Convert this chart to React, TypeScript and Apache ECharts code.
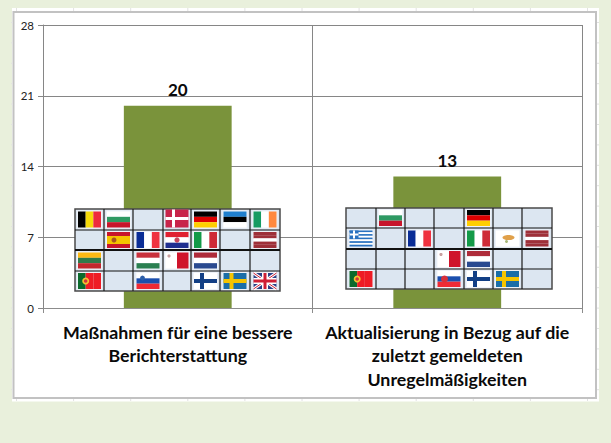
import React, { useEffect, useRef } from "react";
import * as echarts from "echarts";

const categories = [
  "Maßnahmen für eine bessere\nBerichterstattung",
  "Aktualisierung in Bezug auf die\nzuletzt gemeldeten\nUnregelmäßigkeiten",
];
const values = [20, 13];
const yTicks = { min: 0, max: 28, interval: 7 };
const leftFlags = [
  ["BE", "BG", "", "DK", "DE", "EE", "IE"],
  ["", "ES", "FR", "HR", "IT", "", "LV"],
  ["LT", "", "HU", "MT", "NL", "", ""],
  ["PT", "", "SI", "", "FI", "SE", "UK"],
];
const rightFlags = [
  ["", "BG", "", "", "DE", "", ""],
  ["EL", "", "FR", "", "IT", "CY", "LV"],
  ["", "", "", "MT", "NL", "", ""],
  ["PT", "", "", "SK", "FI", "SE", ""],
];
const leftCols = [75, 104, 133, 163, 191, 220, 250, 280];
const leftRows = [209, 230, 250, 271, 291];
const rightCols = [346, 376, 405, 434, 464, 493, 522, 552];
const rightRows = [208, 228, 249, 269, 289];

const stripes: Record<string, { d: "h" | "v"; c: string[] }> = {
  BE: { d: "v", c: ["#000000", "#f5d90a", "#ee2a3c"] },
  BG: { d: "h", c: ["#ffffff", "#2f9a63", "#c8152b"] },
  DE: { d: "h", c: ["#000000", "#dd0000", "#ffce00"] },
  EE: { d: "h", c: ["#1f80cf", "#000000", "#ffffff"] },
  IE: { d: "v", c: ["#169b62", "#ffffff", "#ff883e"] },
  ES: { d: "h", c: ["#c8152b", "#f5c400", "#f5c400", "#c8152b"] },
  FR: { d: "v", c: ["#0a2d96", "#ffffff", "#ef3340"] },
  HR: { d: "h", c: ["#e02030", "#ffffff", "#202f90"] },
  IT: { d: "v", c: ["#139a48", "#ffffff", "#ce2b37"] },
  LV: { d: "h", c: ["#9e3039", "#9e3039", "#ffffff", "#9e3039", "#9e3039"] },
  LT: { d: "h", c: ["#fdb913", "#2f7a4a", "#c1272d"] },
  HU: { d: "h", c: ["#c8313c", "#ffffff", "#2a7f50"] },
  MT: { d: "v", c: ["#ffffff", "#cf142b"] },
  NL: { d: "h", c: ["#ae2b3a", "#ffffff", "#2a4a90"] },
  SI: { d: "h", c: ["#ffffff", "#1a4fae", "#ee2a35"] },
  SK: { d: "h", c: ["#ffffff", "#1a4fae", "#ee2a35"] },
  PT: { d: "v", c: ["#0b6a2c", "#ee1c25", "#ee1c25"] },
  DK: { d: "h", c: ["#c8244a"] },
  FI: { d: "h", c: ["#ffffff"] },
  SE: { d: "h", c: ["#1a6ea8"] },
  UK: { d: "h", c: ["#ffffff"] },
  EL: { d: "h", c: ["#2a72c0", "#ffffff", "#2a72c0", "#ffffff", "#2a72c0", "#ffffff", "#2a72c0", "#ffffff", "#2a72c0"] },
  CY: { d: "h", c: ["#ffffff"] },
};

function flagEls(code: string, cx: number, cy: number) {
  const w = 23, h = code === "DK" ? 18 : 16;
  const x = cx - w / 2, y = cy - h / 2 - (code === "DK" ? 1 : 0);
  const out: any[] = [];
  const rect = (rx: number, ry: number, rw: number, rh: number, fill: string) =>
    out.push({ type: "rect", z: 100, silent: true, shape: { x: rx, y: ry, width: rw, height: rh }, style: { fill } });
  const line = (x1: number, y1: number, x2: number, y2: number, stroke: string, lineWidth: number) =>
    out.push({ type: "line", z: 100, silent: true, shape: { x1, y1, x2, y2 }, style: { stroke, lineWidth } });
  const dot = (dx: number, dy: number, r: number, fill: string) =>
    out.push({ type: "circle", z: 100, silent: true, shape: { cx: dx, cy: dy, r }, style: { fill } });

  if (code !== "DK") rect(x - 1, y - 1, w + 2, h + 2, "#eef2f8");
  const s = stripes[code];
  const n = s.c.length;
  s.c.forEach((col, i) => {
    if (s.d === "h") rect(x, y + (i * h) / n, w, h / n, col);
    else rect(x + (i * w) / n, y, w / n, h, col);
  });
  if (code === "DK") {
    rect(x + 6.5, y, 3, h, "#ffffff");
    rect(x, y + h / 2 - 1.5, w, 3, "#ffffff");
  }
  if (code === "FI") {
    rect(x + 6, y, 4, h, "#123f85");
    rect(x, y + h / 2 - 2, w, 4, "#123f85");
  }
  if (code === "SE") {
    rect(x + 6, y, 4, h, "#f5c400");
    rect(x, y + h / 2 - 2, w, 4, "#f5c400");
  }
  if (code === "UK") {
    rect(x, y, w, h, "#2a3f86");
    line(x, y, x + w, y + h, "#ffffff", 3);
    line(x + w, y, x, y + h, "#ffffff", 3);
    line(x, y, x + w, y + h, "#cf1f35", 1);
    line(x + w, y, x, y + h, "#cf1f35", 1);
    rect(x + w / 2 - 3, y, 6, h, "#ffffff");
    rect(x, y + h / 2 - 3, w, 6, "#ffffff");
    rect(x + w / 2 - 1.5, y, 3, h, "#cf1f35");
    rect(x, y + h / 2 - 1.5, w, 3, "#cf1f35");
  }
  if (code === "ES") dot(x + 7, y + h / 2, 2.5, "#a8551e");
  if (code === "HR") dot(x + w / 2, y + h / 2, 2.6, "#c8465a");
  if (code === "PT") {
    dot(x + w / 3, y + h / 2, 3.5, "#f2c230");
    dot(x + w / 3, y + h / 2, 1.8, "#d0353a");
  }
  if (code === "SI") dot(x + 6, y + 5, 2.4, "#2d5fa8");
  if (code === "SK") dot(x + 7, y + h / 2, 3.5, "#d8303a");
  if (code === "MT") dot(x + 3.5, y + 3.5, 1.6, "#c8a0a0");
  if (code === "EL") {
    rect(x, y, 9, 8, "#2a72c0");
    rect(x + 3.5, y, 2, 8, "#ffffff");
    rect(x, y + 3, 9, 2, "#ffffff");
  }
  if (code === "CY") {
    out.push({ type: "ellipse", z: 100, silent: true, shape: { cx: x + w / 2 + 1, cy: y + h / 2 - 1, rx: 6, ry: 2.6 }, style: { fill: "#e0a04a" } });
    dot(x + w / 2 - 1, y + h / 2 + 3, 1.5, "#a8b878");
  }
  return out;
}

function tableEls(rows: string[][], xs: number[], ys: number[]) {
  const out: any[] = [];
  out.push({
    type: "rect", z: 99, silent: true,
    shape: { x: xs[0], y: ys[0], width: xs[7] - xs[0], height: ys[4] - ys[0] },
    style: { fill: "#dce6f1", stroke: "#4a4a4a", lineWidth: 1.5 },
  });
  xs.slice(1, 7).forEach((x) =>
    out.push({ type: "line", z: 99, silent: true, shape: { x1: x, y1: ys[0], x2: x, y2: ys[4] }, style: { stroke: "#1a1a1a", lineWidth: 1.2 } }));
  ys.slice(1, 4).forEach((y, i) =>
    out.push({ type: "line", z: 99, silent: true, shape: { x1: xs[0], y1: y, x2: xs[7], y2: y }, style: { stroke: "#111111", lineWidth: i === 1 ? 1.8 : 1.2 } }));
  rows.forEach((row, r) =>
    row.forEach((code, c) => {
      if (code) out.push(...flagEls(code, (xs[c] + xs[c + 1]) / 2, (ys[r] + ys[r + 1]) / 2));
    }));
  return out;
}

function sheetMarks() {
  const out: any[] = [];
  const mark = (x1: number, y1: number, x2: number, y2: number) =>
    out.push({ type: "line", z: -1, silent: true, shape: { x1, y1, x2, y2 }, style: { stroke: "#e2e2e2", lineWidth: 1 } });
  for (let x = 16.5; x < 596; x += 57.1) {
    mark(x, 8, x, 11);
    mark(x, 399, x, 401);
  }
  for (let y = 22.5; y < 398; y += 20.4) {
    mark(597, y, 599, y);
    mark(11, y, 13, y);
  }
  return out;
}

export default function App() {
  const ref = useRef<HTMLDivElement>(null);
  useEffect(() => {
    document.body.style.margin = "0";
    const chart = echarts.init(ref.current!, undefined, { renderer: "svg" });
    const font = "Lato, 'Open Sans', sans-serif";
    chart.setOption({
      animation: false,
      backgroundColor: "#e9f0dc",
      grid: { left: 43, right: 29, top: 25, bottom: 135, containLabel: false },
      xAxis: {
        type: "category",
        data: categories,
        axisLine: { show: true, lineStyle: { color: "#8c8c8c", width: 1 } },
        axisTick: { show: true, length: 5, lineStyle: { color: "#8c8c8c" } },
        splitLine: { show: true, lineStyle: { color: "#868686", width: 1 } },
        axisLabel: {
          interval: 0, margin: 12, color: "#0a0a0a", fontFamily: font,
          fontSize: 17.8, fontWeight: "bold", lineHeight: 23.5,
        },
      },
      yAxis: {
        type: "value",
        min: yTicks.min, max: yTicks.max, interval: yTicks.interval,
        axisLine: { show: true, lineStyle: { color: "#868686", width: 1 } },
        axisTick: { show: true, length: 5, lineStyle: { color: "#868686" } },
        splitLine: { show: true, lineStyle: { color: "#868686", width: 1 } },
        axisLabel: { margin: 9, color: "#222222", fontFamily: font, fontSize: 11.5 },
      },
      series: [{
        type: "bar",
        data: values,
        barWidth: "40%",
        itemStyle: { color: "#7a933b" },
        label: {
          show: true, position: "top", distance: 8, color: "#0a0a0a",
          fontFamily: font, fontSize: 17, fontWeight: "bold",
        },
      }],
      graphic: {
        elements: [
          { type: "rect", z: -2, silent: true, shape: { x: 12, y: 8, width: 587, height: 393.5 }, style: { fill: "#ffffff" } },
          { type: "rect", z: -1, silent: true, shape: { x: 13.5, y: 12, width: 582.5, height: 386 }, style: { fill: "#ffffff", stroke: "#c2c2c2", lineWidth: 2 } },
          ...sheetMarks(),
          ...tableEls(leftFlags, leftCols, leftRows),
          ...tableEls(rightFlags, rightCols, rightRows),
        ],
      },
    });
    return () => chart.dispose();
  }, []);
  return <div ref={ref} style={{ width: 611, height: 443 }} />;
}
